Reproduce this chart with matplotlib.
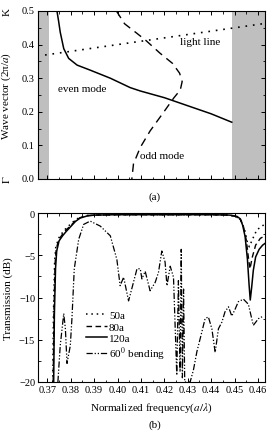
import matplotlib
matplotlib.use("Agg")
import matplotlib.pyplot as plt
from matplotlib.ticker import MultipleLocator, FormatStrFormatter
from matplotlib.transforms import blended_transform_factory

plt.rcParams["font.family"] = ["Liberation Serif", "DejaVu Serif"]
plt.rcParams["mathtext.fontset"] = "stix"
plt.rcParams["font.size"] = 7.5

# ---- panel (a): band diagram ----
gap_left = (0.366, 0.3707)
gap_right = (0.4488, 0.463)

even_f = [0.3741, 0.3748, 0.3755, 0.3770, 0.3791, 0.3827, 0.3883, 0.3969, 0.4054, 0.4097, 0.4200, 0.4300, 0.4400, 0.4488]
even_k = [0.500, 0.470, 0.437, 0.388, 0.359, 0.339, 0.324, 0.300, 0.272, 0.262, 0.242, 0.218, 0.194, 0.169]

odd_f = [0.3995, 0.4030, 0.4080, 0.4120, 0.4182, 0.4235, 0.4265, 0.4276, 0.4268, 0.4240, 0.4195, 0.4139, 0.4097, 0.4068, 0.4061]
odd_k = [0.500, 0.462, 0.435, 0.413, 0.374, 0.344, 0.315, 0.290, 0.265, 0.241, 0.197, 0.143, 0.094, 0.045, 0.000]

light_f = [0.369, 0.463]
light_k = [0.369, 0.463]

k_ticks = [0.0, 0.1, 0.2, 0.3, 0.4, 0.5]

# ---- panel (b): transmission ----
f120 = [0.3727, 0.3730, 0.3735, 0.3740, 0.3750, 0.3765, 0.3780, 0.3800, 0.3820, 0.3840, 0.3870, 0.3900,
        0.4000, 0.4200, 0.4400, 0.4480, 0.4510, 0.4525, 0.4535, 0.4545, 0.4555, 0.4562, 0.4567, 0.4573,
        0.4580, 0.4590, 0.4605, 0.4620, 0.4630]
t120 = [-20, -12, -6.5, -4.5, -3.3, -2.7, -2.2, -1.6, -1.0, -0.6, -0.35, -0.25,
        -0.2, -0.2, -0.2, -0.25, -0.4, -0.7, -1.5, -2.8, -5.5, -8.5, -10.3, -8.8,
        -6.8, -5.2, -4.3, -3.8, -3.6]

f80 = [0.3725, 0.3728, 0.3733, 0.3738, 0.3750, 0.3765, 0.3780, 0.3800, 0.3820, 0.3840, 0.3870, 0.3900,
       0.4000, 0.4200, 0.4400, 0.4480, 0.4510, 0.4525, 0.4538, 0.4550, 0.4560, 0.4566, 0.4575, 0.4590,
       0.4610, 0.4630]
t80 = [-20, -12, -6.0, -4.2, -3.1, -2.5, -2.0, -1.5, -0.9, -0.55, -0.3, -0.25,
       -0.2, -0.2, -0.2, -0.25, -0.45, -0.8, -1.6, -3.2, -5.5, -6.6, -5.3, -3.8,
       -3.0, -2.7]

f50 = [0.3723, 0.3726, 0.3731, 0.3736, 0.3750, 0.3765, 0.3780, 0.3800, 0.3820, 0.3840, 0.3870, 0.3900,
       0.4000, 0.4200, 0.4400, 0.4480, 0.4510, 0.4530, 0.4545, 0.4555, 0.4563, 0.4575, 0.4595, 0.4630]
t50 = [-20, -12, -5.8, -4.0, -2.9, -2.3, -1.8, -1.3, -0.8, -0.5, -0.3, -0.25,
       -0.2, -0.2, -0.2, -0.25, -0.5, -1.0, -2.2, -3.5, -4.0, -3.2, -2.0, -1.3]

fbend = [0.3745, 0.3755, 0.3770, 0.3777, 0.3784, 0.3798, 0.3805, 0.3815, 0.3834, 0.3855, 0.3883, 0.3926,
         0.3969, 0.3997, 0.4011, 0.4026, 0.4047, 0.4068, 0.4083, 0.4097, 0.4104, 0.4118, 0.4139, 0.4161,
         0.4175, 0.4189, 0.4203, 0.4211, 0.4225, 0.4239, 0.4253, 0.4260, 0.4267, 0.4272, 0.4277, 0.4282,
         0.4287, 0.4310, 0.4324,
         0.4339, 0.4360, 0.4374, 0.4388, 0.4403, 0.4417, 0.4431, 0.4446, 0.4459, 0.4474, 0.4488, 0.4502,
         0.4516, 0.4538, 0.4559, 0.4580, 0.4602, 0.4623]
tbend = [-20, -15.7, -11.9, -13.7, -17.8, -15.7, -12.5, -6.6, -3.1, -1.35, -0.96, -1.55,
         -2.7, -5.5, -8.6, -7.6, -10.4, -8.2, -6.6, -6.6, -7.8, -6.9, -9.2, -8.2,
         -7.0, -4.5, -5.8, -8.6, -6.3, -7.6, -19.2, -8.0, -18.8, -4.3, -19.5, -9.0,
         -20, -20, -18.6,
         -16.4, -14.1, -12.5, -12.3, -13.7, -16.5, -13.7, -12.9, -11.7, -11.1, -12.2, -11.4,
         -10.5, -10.2, -10.8, -13.3, -12.5, -12.2]

W, H = 267, 435
fig = plt.figure(figsize=(W / 100, H / 100), dpi=100)
axa = fig.add_axes([38 / W, 1 - 180 / H, 227 / W, 168 / H])
axb = fig.add_axes([38 / W, 1 - 383 / H, 227 / W, 169 / H])

gray = "#bfbfbf"
axa.axvspan(*gap_left, color=gray, lw=0)
axa.axvspan(*gap_right, color=gray, lw=0)
axa.plot(even_f, even_k, "k-", lw=1.1)
axa.plot(odd_f, odd_k, "k", ls=(0, (6, 4)), lw=1.0)
axa.plot(light_f, light_k, "k", ls=(0, (1, 3.5)), lw=1.2)
axa.text(0.3745, 0.27, "even mode", fontsize=8, va="center")
axa.text(0.4265, 0.409, "light line", fontsize=8, va="center")
axa.text(0.4097, 0.07, "odd mode", fontsize=8, va="center")
axa.set_xlim(0.366, 0.463)
axa.set_ylim(0, 0.5)
axa.set_yticks(k_ticks)
axa.yaxis.set_minor_locator(MultipleLocator(0.05))
axa.xaxis.set_major_locator(MultipleLocator(0.01))
axa.xaxis.set_minor_locator(MultipleLocator(0.005))
axa.tick_params(axis="x", labelbottom=False)
axa.tick_params(axis="y", labelleft=False)
axa.set_ylabel(r"Wave vector (2π/$a$)", fontsize=8)
axa.yaxis.set_label_coords(-0.112, 0.5)

axb.plot(f50, t50, "k", ls=(0, (1, 2.5)), lw=1.1, label="50a")
axb.plot(f80, t80, "k", ls=(0, (4, 2.5)), lw=1.0, label="80a")
axb.plot(f120, t120, "k-", lw=1.1, label="120a")
axb.plot(fbend, tbend, "k", ls=(0, (5, 1.5, 1, 1.5, 1, 1.5)), lw=0.9, label=r"60$^0$ bending")
axb.set_xlim(0.366, 0.463)
axb.set_ylim(-20, 0)
axb.xaxis.set_major_locator(MultipleLocator(0.01))
axb.xaxis.set_minor_locator(MultipleLocator(0.005))
axb.xaxis.set_major_formatter(FormatStrFormatter("%.2f"))
axb.yaxis.set_major_locator(MultipleLocator(5))
axb.yaxis.set_minor_locator(MultipleLocator(2.5))
axb.set_xlabel(r"Normalized frequency($a/\lambda$)", fontsize=8, labelpad=5)
axb.set_ylabel("Transmission (dB)", fontsize=8, labelpad=4)
axb.legend(loc="upper left", bbox_to_anchor=(0.19, 0.45), frameon=False, fontsize=8,
           handlelength=1.9, handletextpad=0.2, labelspacing=0.15, borderaxespad=0)

for ax in (axa, axb):
    ax.tick_params(which="both", direction="in", top=True, right=True, labelsize=7.5, pad=2)
    ax.tick_params(which="major", length=3, width=0.7)
    ax.tick_params(which="minor", length=1.8, width=0.6)

# panel (a) wave-vector tick labels as figure texts, placed on the data scale
lab_tr = blended_transform_factory(fig.transFigure, axa.transData)
for k in k_ticks:
    fig.text(35 / W, k, "%.1f" % k, transform=lab_tr, ha="right", va="center",
             fontsize=7.5, zorder=10)

# symmetry-point labels and panel captions
fig.text(7 / W, 1 - 180 / H, r"$\Gamma$", rotation=90, ha="center", va="center", fontsize=8)
fig.text(7 / W, 1 - 12 / H, "K", rotation=90, ha="center", va="center", fontsize=8)
fig.text(155 / W, 1 - 197 / H, "(a)", ha="center", va="center", fontsize=8)
fig.text(155 / W, 1 - 425 / H, "(b)", ha="center", va="center", fontsize=8)

fig.savefig("out.png", dpi=100, facecolor="white")
